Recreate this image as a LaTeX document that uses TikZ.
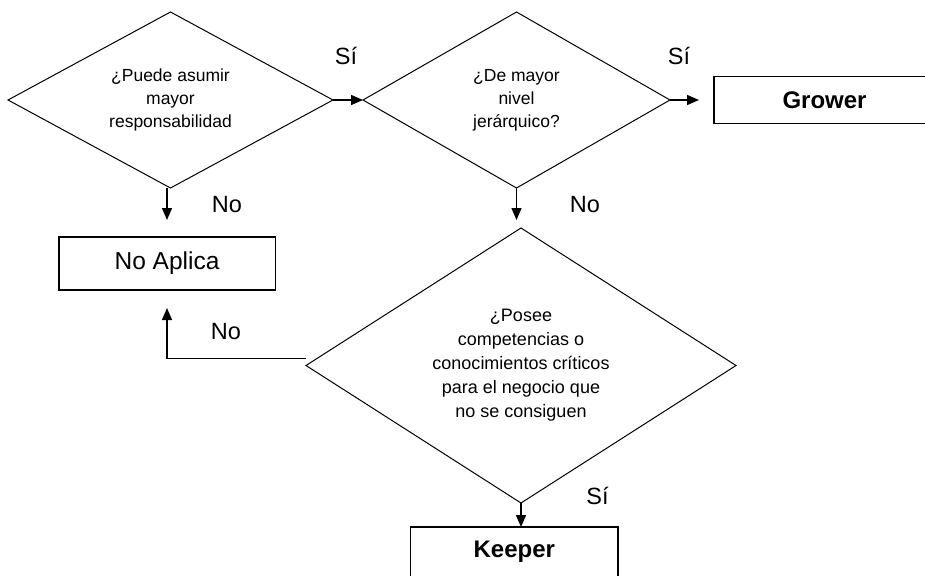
\documentclass[tikz,border=0pt]{standalone}
\usepackage{fontspec}
\setmainfont{Liberation Sans}
\usetikzlibrary{shapes.geometric,arrows.meta}
\begin{document}
\begin{tikzpicture}[x=1pt,y=-1pt,
  decision/.style={diamond, draw, line width=1pt, inner sep=0pt, outer sep=0pt, align=center},
  outcome/.style={rectangle, draw, line width=1.3pt, inner sep=0pt, outer sep=0pt},
  arr/.style={line width=1.4pt, -{Triangle[length=12pt,width=10pt]}},
  lbl/.style={anchor=base, inner sep=0pt, font=\fontsize{23.5}{28}\selectfont},
  qtext/.style={font=\fontsize{17.5}{23}\selectfont},
  qtextl/.style={font=\fontsize{18}{24}\selectfont}]
% page area
\clip (0,0) rectangle (925,575);
\fill[white] (0,0) rectangle (925,575);

% decisions
\node[decision, qtext, aspect=1.85, minimum width=325pt, minimum height=176pt]
  (d1) at (170.5,100) {¿Puede asumir\\mayor\\responsabilidad};
\node[decision, qtext, aspect=1.75, minimum width=307pt, minimum height=176pt]
  (d2) at (516.5,100) {¿De mayor\\nivel\\jerárquico?};
\node[decision, qtextl, aspect=1.56, minimum width=430pt, minimum height=275pt]
  (d3) at (521,365.5) {¿Posee\\competencias o\\conocimientos críticos\\para el negocio que\\no se consiguen};

% outcomes
\node[outcome, minimum width=221pt, minimum height=47pt, font=\fontsize{24}{28}\selectfont\bfseries]
  (grow) at (824.5,100) {Grower};
\node[outcome, minimum width=216.3pt, minimum height=53pt, font=\fontsize{24.5}{28}\selectfont]
  (noap) at (167,263.5) {No Aplica};
\node[outcome, anchor=north, minimum width=207.5pt, minimum height=50pt, font=\fontsize{24}{28}\selectfont\bfseries]
  (keep) at (514.3,527) {Keeper};

% connectors
\draw[arr] (d1.east) -- (d2.west);
\draw[arr, shorten >=15pt] (d2.east) -- (d2.east -| grow.west);
\draw[arr, shorten >=17pt] (noap.north |- d1.south) -- (noap.north);
\draw[arr, shorten >=8pt] (d2.south) -- (d2.south |- d3.north);
\draw[arr, shorten >=18pt] ([yshift=7pt]d3.west) -| (noap.south);
\draw[arr] (d3.south) -- (d3.south |- keep.north);

% branch labels
\node[lbl] (si1) at (346,65) {Sí};
\node[lbl] (si2) at (679,65) {Sí};
\node[lbl] (no1) at (227,212) {No};
\node[lbl] (no2) at (585,212) {No};
\node[lbl] (no3) at (226,339) {No};
\node[lbl] (si3) at (597.5,504) {Sí};
\end{tikzpicture}
\end{document}
